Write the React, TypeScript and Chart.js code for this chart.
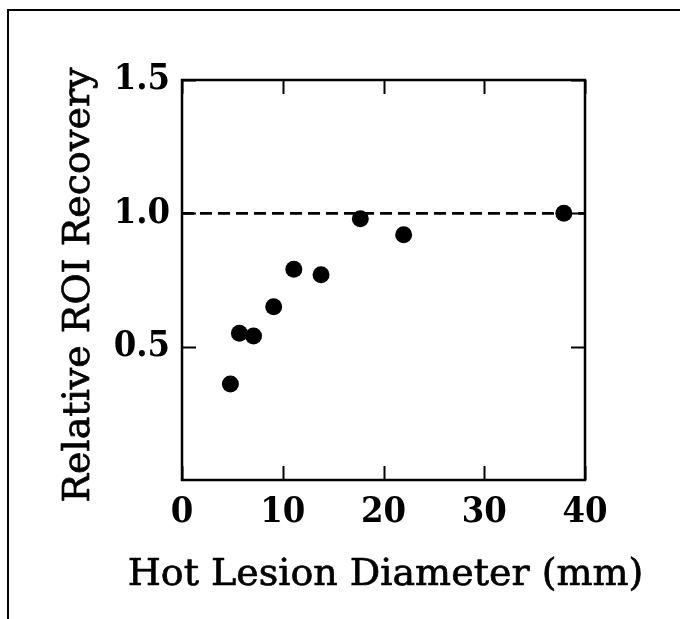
import React, { useEffect, useRef } from 'react';
import { Chart, registerables } from 'chart.js';

Chart.register(...registerables);

// Data
const diameters = [4.8, 5.7, 7.1, 9.1, 11.1, 13.8, 17.7, 22.0, 37.9];
const recovery = [0.36, 0.55, 0.54, 0.65, 0.79, 0.77, 0.98, 0.92, 1.0];
const refLineX = [0, 40];
const refLineY = [1.0, 1.0];
const xTickValues = [0, 10, 20, 30, 40];
const yTickValues = [0.5, 1.0, 1.5];
const xTitle = 'Hot Lesion Diameter (mm)';
const yTitle = 'Relative ROI Recovery';

const W = 680;
const H = 619;

const tickFont = { family: "'DejaVu Serif Condensed', 'DejaVu Serif', serif", size: 36, weight: 'bold' as const };
const titleFontCss = "normal 38px 'DejaVu Serif', serif";

function heavyText(ctx: CanvasRenderingContext2D, text: string, x: number, y: number) {
  ctx.fillText(text, x, y);
  ctx.lineWidth = 0.7;
  ctx.lineJoin = 'round';
  ctx.strokeText(text, x, y);
}

const boxPlugin = {
  id: 'boxAndTicks',
  afterDraw(chart: any) {
    const { ctx, chartArea: a, scales } = chart;
    const xs = scales.x;
    const ys = scales.y;
    ctx.save();
    ctx.strokeStyle = '#000';
    ctx.fillStyle = '#000';
    ctx.lineCap = 'butt';
    // inward ticks on all four sides
    ctx.lineWidth = 2;
    const tl = 14;
    ctx.beginPath();
    for (const v of xTickValues) {
      const px = Math.round(xs.getPixelForValue(v)) + 0.5;
      ctx.moveTo(px, a.bottom);
      ctx.lineTo(px, a.bottom - tl);
      ctx.moveTo(px, a.top);
      ctx.lineTo(px, a.top + tl);
    }
    for (const v of yTickValues) {
      const py = Math.round(ys.getPixelForValue(v)) + 0.5;
      ctx.moveTo(a.left, py);
      ctx.lineTo(a.left + tl, py);
      ctx.moveTo(a.right, py);
      ctx.lineTo(a.right - tl, py);
    }
    ctx.stroke();
    // plot box
    ctx.lineWidth = 2.5;
    ctx.strokeRect(a.left, a.top, a.right - a.left, a.bottom - a.top);
    // figure frame (top and left)
    ctx.lineWidth = 2;
    ctx.beginPath();
    ctx.moveTo(8, H);
    ctx.lineTo(8, 10);
    ctx.lineTo(W, 10);
    ctx.stroke();
    // axis titles
    ctx.font = titleFontCss;
    ctx.textAlign = 'center';
    ctx.textBaseline = 'alphabetic';
    heavyText(ctx, xTitle, (a.left + a.right) / 2 + 2, 585);
    ctx.save();
    ctx.translate(89, (a.top + a.bottom) / 2 + 5);
    ctx.rotate(-Math.PI / 2);
    heavyText(ctx, yTitle, 0, 0);
    ctx.restore();
    ctx.restore();
  },
};

export default function App() {
  const ref = useRef<HTMLCanvasElement | null>(null);

  useEffect(() => {
    if (!ref.current) return;
    const chart = new Chart(ref.current, {
      type: 'scatter',
      data: {
        datasets: [
          {
            label: 'points',
            data: diameters.map((d, i) => ({ x: d, y: recovery[i] })),
            backgroundColor: '#000',
            borderColor: '#000',
            pointRadius: 8.5,
            pointBorderWidth: 0,
            showLine: false,
            order: 0,
          },
          {
            label: 'reference',
            data: refLineX.map((x, i) => ({ x, y: refLineY[i] })),
            showLine: true,
            borderColor: '#000',
            borderWidth: 2.8,
            borderDash: [12, 6],
            pointRadius: 0,
            order: 1,
          },
        ],
      },
      options: {
        animation: false,
        responsive: false,
        devicePixelRatio: 1,
        layout: { padding: { top: 80, right: 95, left: 0, bottom: 0 } },
        plugins: {
          legend: { display: false },
          tooltip: { enabled: false },
        },
        scales: {
          x: {
            type: 'linear',
            min: 0,
            max: 40,
            afterBuildTicks: (scale: any) => {
              scale.ticks = xTickValues.map((v) => ({ value: v }));
            },
            afterFit: (scale: any) => {
              scale.height = H - 480;
            },
            grid: { display: false, drawTicks: false },
            border: { display: false },
            ticks: {
              color: '#000',
              font: tickFont,
              padding: 11,
              maxRotation: 0,
              callback: (v: any) => String(v),
            },
            title: { display: false },
          },
          y: {
            type: 'linear',
            min: 0,
            max: 1.5,
            afterBuildTicks: (scale: any) => {
              scale.ticks = yTickValues.map((v) => ({ value: v }));
            },
            afterFit: (scale: any) => {
              scale.width = 182;
            },
            grid: { display: false, drawTicks: false },
            border: { display: false },
            ticks: {
              color: '#000',
              font: tickFont,
              padding: 12,
              callback: (v: any) => Number(v).toFixed(1),
            },
            title: { display: false },
          },
        },
      },
      plugins: [boxPlugin],
    });
    return () => chart.destroy();
  }, []);

  return (
    <div style={{ position: 'absolute', left: 0, top: 0, width: W, height: H, background: '#fff' }}>
      <canvas ref={ref} width={W} height={H} style={{ display: 'block', width: W, height: H }} />
    </div>
  );
}
